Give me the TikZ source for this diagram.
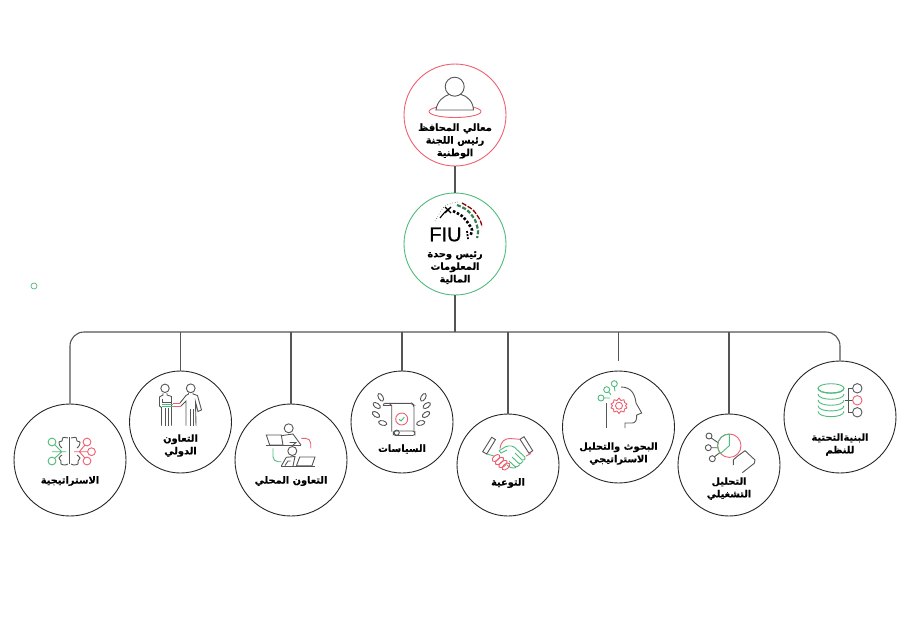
\documentclass[tikz,border=0pt]{standalone}
\usepackage{fontspec}
\usepackage{xcolor}
\TeXXeTstate=1
\newfontfamily\arabicfont[Script=Arabic, BoldFont={DejaVu Sans Bold}, BoldFeatures={FakeBold=0.6}]{DejaVu Sans}
\newfontfamily\logofont[FakeBold=0.5]{Liberation Sans}
\newcommand{\rl}[1]{\beginR #1\endR}
\definecolor{figred}{HTML}{EE5F70}
\definecolor{figgreen}{HTML}{4FBB7C}
\definecolor{figgray}{HTML}{555555}
\tikzset{
  smallring/.style={circle, draw=black!85, line width=0.9pt, minimum size=102pt, inner sep=0pt},
  bigring/.style={circle, draw=black!85, line width=0.9pt, minimum size=112pt, inner sep=0pt},
  caption/.style={align=center, text=black, inner sep=0pt, font=\fontsize{9.8}{12.6}\selectfont\arabicfont\bfseries},
  stem/.style={figgray, line width=1.1pt},
  ink/.style={figgray, line width=0.9pt},
  redink/.style={figred, line width=0.9pt},
  greenink/.style={figgreen, line width=0.9pt},
}
\begin{document}
\begin{tikzpicture}[x=1pt, y=-1pt]
\useasboundingbox (0,0) rectangle (915,632);

\node[smallring, draw=figred] (chair) at (455,115) {};
\node[smallring, draw=figgreen] (fiuhead) at (455,244) {};
\node[circle, draw=figgreen, line width=0.7pt, minimum size=6pt, inner sep=0pt] (dot) at (34,286) {};

\node[bigring] (strategy) at (70,460) {};
\node[smallring] (intl) at (180.5,422) {};
\node[bigring] (local) at (291,460) {};
\node[smallring] (policy) at (402,422) {};
\node[smallring] (aware) at (508,465) {};
\node[bigring] (research) at (618.5,427) {};
\node[smallring] (ops) at (729,465) {};
\node[bigring] (infra) at (840,417) {};

\coordinate (busmid) at (455,332);
\coordinate (researchend) at (618.5,361);

% links
\draw [stem] (chair) -- (fiuhead);
\draw [stem] (fiuhead) -- (busmid);
\draw [stem, rounded corners=14pt] (strategy.north) |- (busmid) -| (infra.north);
\draw [stem] (intl.north |- busmid) -- (intl.north);
\draw [stem] (local.north |- busmid) -- (local.north);
\draw [stem] (policy.north |- busmid) -- (policy.north);
\draw [stem] (aware.north |- busmid) -- (aware.north);
\draw [stem] (researchend |- busmid) -- (researchend);
\draw [stem] (ops.north |- busmid) -- (ops.north);

% captions
\node[caption] (chairtxt) at (455,141) {\rl{معالي المحافظ}\\\rl{رئيس اللجنة}\\\rl{الوطنية}};
\node[caption] (fiutxt) at (455,267.5) {\rl{رئيس وحدة}\\\rl{المعلومات}\\\rl{المالية}};
\node[caption] (strategytxt) at (70,481) {\rl{الاستراتيجية}};
\node[caption] (intltxt) at (180.5,445.5) {\rl{التعاون}\\\rl{الدولي}};
\node[caption] (localtxt) at (291,481) {\rl{التعاون المحلي}};
\node[caption] (policytxt) at (402,449) {\rl{السياسات}};
\node[caption] (awaretxt) at (508,483) {\rl{التوعية}};
\node[caption] (researchtxt) at (618.5,453.5) {\rl{البحوث والتحليل}\\\rl{الاستراتيجي}};
\node[caption] (opstxt) at (729,488.5) {\rl{التحليل}\\\rl{التشغيلي}};
\node[caption] (infratxt) at (840,444.5) {\rl{البنيةالتحتية}\\\rl{للنظم}};

% person
\draw [redink] (455,111.5) ellipse (26 and 6);
\draw [ink, fill=white] (436,110) .. controls (437,101) and (444,96) .. (449,94.5) -- (461,94.5) .. controls (467,96) and (473,101) .. (473.5,110) -- cycle;
\draw [ink, fill=white] (454.7,86.7) circle (9.5);

% logo
\node[font=\logofont\fontsize{20}{20}\selectfont, inner sep=0pt, text=black] (fiulogo) at (445.5,234.5) {FIU};
\draw [figgray, line width=0.6pt, dotted] plot[smooth] coordinates {(435,221) (445,206) (458,202)};
\draw [black, line width=1.1pt] plot[smooth] coordinates {(440,218) (445,212) (450,208)};
\draw [black, line width=1.1pt] (445,207) -- (451,213) (451,207) -- (445,213);
\draw [black, line width=2.6pt, dash pattern=on 2.5pt off 1.8pt] plot[smooth] coordinates {(453,211) (462,216) (468,223) (472,230) (470,236)};
\draw [figgreen!70!black, line width=2.2pt, dash pattern=on 4pt off 1.8pt] plot[smooth] coordinates {(457,205) (467,210) (475,220) (478,231) (477,238)};
\draw [red!55!black, line width=1.3pt, dash pattern=on 5pt off 1.5pt] plot[smooth] coordinates {(462,203) (473,210) (480,220) (482,227)};
\draw [black, line width=1.8pt, dash pattern=on 2pt off 1.2pt] (467,231) -- (468,239);

% brain
\draw [ink] (69.5,437) -- (69.5,464);
\draw [ink] plot[smooth] coordinates {(68,438) (63,437.5) (62,441) (59,442) (60,446) (62,448)};
\draw [ink] plot[smooth] coordinates {(62,455) (59,458) (61,461) (61,464) (65,465) (68,464)};
\draw [ink] plot[smooth] coordinates {(71,438) (76,437.5) (77,441) (80,442) (79,446) (77,448)};
\draw [ink] plot[smooth] coordinates {(77,455) (80,458) (78,461) (78,464) (74,465) (71,464)};
\draw [greenink] (52,442) circle (3.9) (52,461) circle (3.9);
\draw [greenink] (52,451.7) -- (66,451.7) (54.8,444.8) -- (61.7,451.7) -- (54.8,458.2);
\draw [redink] (87,442) circle (3.9) (91.5,451.7) circle (3.9) (87,461) circle (3.9);
\draw [redink] (74,451.7) -- (87.6,451.7) (84.8,445.2) -- (79.3,451.7) -- (84.8,457.8);

% two people
\draw [ink] (165,388.3) circle (4.2) (190.7,388.3) circle (4.4);
\draw [ink] (163,393) -- (163,395) -- (159.5,397) -- (159.5,406) -- (161.5,407.5) -- (161.5,425.7);
\draw [ink] (167,393) -- (167,395) -- (171.5,396.5) -- (171.5,425.7);
\draw [ink] (165,408) -- (165,425.7) (168.3,408) -- (168.3,425.7);
\draw [ink] (162.5,398.5) -- (162.5,402.5) -- (172,402.5);
\draw [greenink] (161.5,406) -- (173.3,406) (161.5,404.5) -- (173.3,404.5);
\draw [redink] (173.3,403) -- (180,403) (173.3,406) -- (181,406);
\draw [ink] (180,403) -- (186,395.5) -- (188.5,394) -- (188.5,392.5);
\draw [ink] (193,392.5) -- (193,394) -- (197.5,395.5) -- (201.5,410) -- (198,411.5) -- (195.5,402) -- (196,425.7);
\draw [ink] (181,406) -- (186,401) -- (186,425.7);
\draw [ink] (190,409) -- (190,425.7) (193,409) -- (193,425.7);

% two desks
\draw [ink] (288.7,428.3) circle (4.5) (292.3,451) circle (4.5);
\draw [ink] (266.3,435) -- (281.3,435) -- (283,445) -- (269.7,445) -- cycle;
\draw [ink] (266,445.7) -- (301,445.7);
\draw [ink] (281,435.7) -- (293,434) -- (301,445);
\draw [ink] (289.5,442.5) -- (296,442.5) -- (293,445);
\draw [redink, rounded corners=5pt] (301.3,438.3) -- (310.7,438.3) -- (310.7,448.3);
\draw [greenink, rounded corners=5pt] (273,448.3) -- (273,461.7) -- (281.3,461.7);
\draw [ink] (299.7,457) -- (315,457) -- (312,465.7) -- (296.5,465.7) -- cycle;
\draw [ink] (281,466.7) -- (315,466.7);
\draw [ink] (281.3,466) -- (286.3,457.3) -- (295,456.5) -- (293,466);
\draw [ink] (285,465.5) -- (288,461) -- (290.5,461);

% scroll
\draw [ink, rounded corners=2pt] (383.3,405.5) -- (383.3,403.3) -- (412,403.3) -- (414,405) -- (414,431);
\draw [ink, rounded corners=2pt] (383.3,405.5) -- (391.7,405.5);
\draw [ink] (389,403.3) -- (391.7,405.5) -- (391.7,431.5);
\draw [ink, rounded corners=2.5pt] (393.3,431) rectangle (415,435.5);
\draw [ink] (396.7,432.7) circle (2.6);
\draw [redink] (401.7,419) circle (6);
\draw [greenink, line width=1pt] (399,419.3) -- (401,421) -- (404.3,417.3);
\draw [ink, rotate around={-60:(380.7,397.3)}] (380.7,397.3) ellipse (4.2 and 2.3);
\draw [ink, rotate around={-35:(376.7,405.5)}] (376.7,405.5) ellipse (4.2 and 2.3);
\draw [ink, rotate around={-35:(376,414.5)}] (376,414.5) ellipse (4.2 and 2.3);
\draw [ink, rotate around={-15:(382.7,423)}] (382.7,423) ellipse (4.2 and 2.3);
\draw [ink, rotate around={60:(423.3,397.3)}] (423.3,397.3) ellipse (4.2 and 2.3);
\draw [ink, rotate around={35:(426.7,405.5)}] (426.7,405.5) ellipse (4.2 and 2.3);
\draw [ink, rotate around={35:(426,414.5)}] (426,414.5) ellipse (4.2 and 2.3);
\draw [ink, rotate around={15:(420.7,423)}] (420.7,423) ellipse (4.2 and 2.3);

% handshake
\draw [ink] (491.7,437.3) -- (495.5,439.6) -- (486.7,454) -- (482.7,451.7) -- cycle;
\draw [ink] (520,439.3) -- (524,436.7) -- (532.7,450.7) -- (529,453.3) -- cycle;
\draw [redink] (500,448.5) .. controls (501,441) and (505,438.5) .. (510,438.5) -- (520,439.3);
\draw [redink] (526,456) -- (531,453.5);
\draw [greenink] (487,454) -- (494,456);
\draw [greenink, rounded corners=1.5pt] (499,450.7) -- (506.7,446) -- (513,446) -- (526,458) -- (523,461) -- (515,453);
\draw [greenink, rounded corners=1.5pt] (523,461) -- (520,464.5) -- (512,457);
\draw [greenink, rounded corners=1.5pt] (520,464.5) -- (516,467.5) -- (509,461);
\draw [greenink, rounded corners=1.5pt] (516,467.5) -- (511.7,468.3) -- (507,465);
\draw [greenink] (499,450.7) -- (501,453) -- (507,450);
\draw [redink, rotate around={40:(496,458)}] (496,458) ellipse (4.5 and 2.6);
\draw [redink, rotate around={40:(499.5,461)}] (499.5,461) ellipse (5 and 2.6);
\draw [redink, rotate around={40:(503,464)}] (503,464) ellipse (5 and 2.6);
\draw [redink, rotate around={40:(506,466.5)}] (506,466.5) ellipse (4.5 and 2.6);

% head
\draw [greenink] (614.3,383.7) circle (3) (606.7,389.7) circle (3) (601,398) circle (3);
\draw [greenink] (614.3,386.7) -- (615,391.3) (608.6,392) -- (611,394.7) (604,398) -- (610,398);
\draw [redink] (619,405.7) circle (3.5);
\draw [redink, line join=round] plot[smooth cycle, tension=0.3] coordinates {(619,398) (621,400.5) (624,399.7) (624.5,402.5) (627,404) (625.5,405.7) (627,408) (624.5,409) (624,412) (621,411) (619,413.5) (617,411) (614,412) (613.5,409) (611,408) (612.5,405.7) (611,404) (613.5,402.5) (614,399.7) (617,400.5)};
\draw [ink, line width=1pt] (606.7,403) -- (606.7,428);
\draw [ink] (621,387) .. controls (631,387) and (635,394) .. (636,403) -- (641.7,413) -- (636.7,415) .. controls (637,421) and (635,423) .. (632,423) -- (625,423) -- (625,428);

% chart
\draw [ink] (709,436) circle (3) (708.3,447.7) circle (3) (712.3,458.7) circle (3);
\draw [ink] (711.3,438) -- (718.5,443) (711.3,447.7) -- (717.6,447.7) (714.5,456.7) -- (720,452.5);
\draw [redink] (729.3,445.7) circle (11.7);
\draw [greenink] (729.3,434) arc[start angle=-90, end angle=-222, radius=11.7];
\draw [greenink] (729.3,434) -- (729.3,445.7) -- (720.6,453.5);
\draw [ink] (736.7,456.7) -- (745,450.7) -- (755,460) -- (754.3,463.3) -- (742.3,472.7);
\draw [ink] (733.3,460) -- (736.7,456.7) (733.3,460) -- (733.3,465);

% database
\draw [greenink] (831,388.3) ellipse (13 and 4.6);
\draw [greenink] (818,388.3) .. controls (818,395) and (844,395) .. (844,388.3);
\draw [greenink] (818,394) .. controls (818,401) and (844,401) .. (844,394);
\draw [greenink] (818,400) .. controls (818,407) and (844,407) .. (844,400);
\draw [greenink] (818,405.7) .. controls (818,412.7) and (844,412.7) .. (844,405.7);
\draw [greenink] (818,411.4) .. controls (818,418.4) and (844,418.4) .. (844,411.4);
\draw [ink] (852.6,388.3) -- (848.3,388.3) -- (848.3,412.3) -- (852.6,412.3);
\draw [ink] (845,400.3) -- (852.6,400.3);
\draw [ink] (857.3,388.3) circle (4.7) (857.3,412.3) circle (4.7);
\draw [redink] (857.3,400.3) circle (4.7);

\end{tikzpicture}
\end{document}
